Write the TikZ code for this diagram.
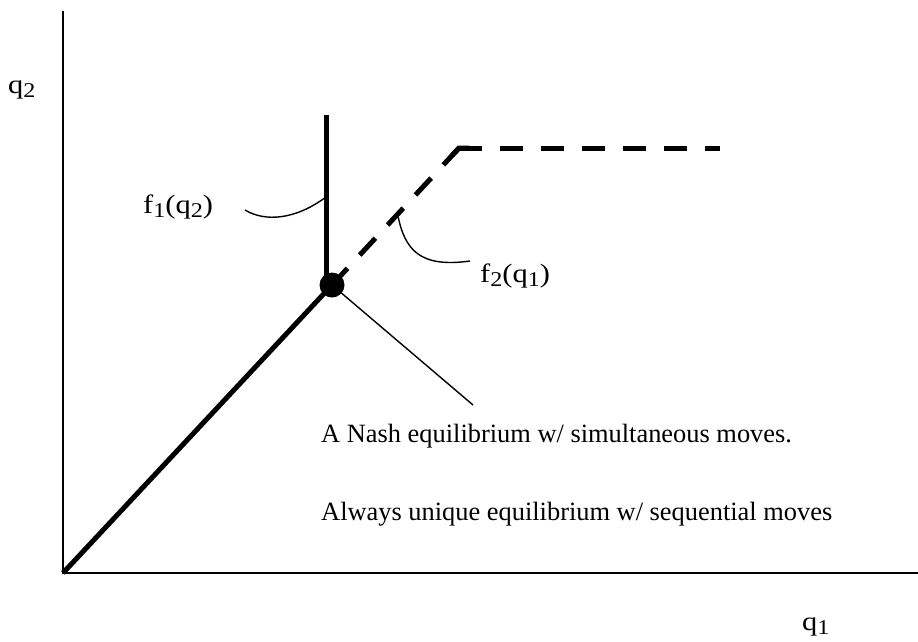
\documentclass[tikz,border=0pt]{standalone}
\usepackage{fontspec}
\setmainfont{Liberation Serif}
\newfontfamily\labfont[FakeStretch=1.15]{Liberation Serif}
\usetikzlibrary{calc}
\newcommand\lsub[1]{\raisebox{-4pt}{\fontsize{21}{21}\selectfont #1}}
\tikzset{
  axisline/.style={line width=2.2pt},
  thickline/.style={line width=5pt},
  dashline/.style={line width=5pt, dash pattern=on 23pt off 18pt},
  thinline/.style={line width=1.4pt},
  maintext/.style={anchor=base west, inner sep=0pt, font=\fontsize{26.4}{31}\selectfont},
  labtext/.style={anchor=base west, inner sep=0pt, font=\labfont\fontsize{26.5}{31}\selectfont},
}
\begin{document}
\begin{tikzpicture}[x=1pt,y=-1pt]
\useasboundingbox (0,0) rectangle (918,641);
\coordinate (O) at (63,573);
\coordinate (Ytop) at (63,11);
\coordinate (Xend) at (918,573);
\coordinate (E) at (332,285);
\coordinate (Vb) at (326,285);
\coordinate (V) at (326,115);
\coordinate (K) at (459,148);
\coordinate (D) at (720,148);
\coordinate (T) at (473,405);
\coordinate (C1s) at (245,210);
\coordinate (C1e) at (326,197);
\coordinate (C2s) at (398,216);
\coordinate (C2e) at (470,261);
% axes
\draw[axisline] (Ytop) -- (O) -- (Xend);
% f1 (solid)
\draw[thickline] (O) -- (E);
\draw[thickline] (Vb) -- (V);
% f2 (dashed)
\draw[dashline] (K) -- (E);
\draw[dashline] (K) -- (D);
\draw[line width=5pt, line join=miter] ($(K)!10pt!(E)$) -- (K) -- ($(K)!10pt!(D)$);
% pointer lines
\draw[thinline] (C1s) .. controls (265,222) and (295,220) .. (C1e);
\draw[thinline] (C2s) .. controls (405,250) and (420,268) .. (C2e);
\draw[thinline] (E) -- (T);
% equilibrium dot
\node[circle, fill=black, inner sep=0pt, minimum size=25pt] (eq) at (E) {};
% labels
\node[labtext] (q2) at (8,93) {q\lsub{2}};
\node[labtext] (q1) at (802,630) {q\lsub{1}};
\node[labtext] (f1) at (143,213) {f\lsub{1}(q\lsub{2})};
\node[labtext] (f2) at (480,282) {f\lsub{2}(q\lsub{1})};
\node[maintext] (t1) at (321,442) {A Nash equilibrium w/ simultaneous moves.};
\node[maintext] (t2) at (321,520) {Always unique equilibrium w/ sequential moves};
\end{tikzpicture}
\end{document}
